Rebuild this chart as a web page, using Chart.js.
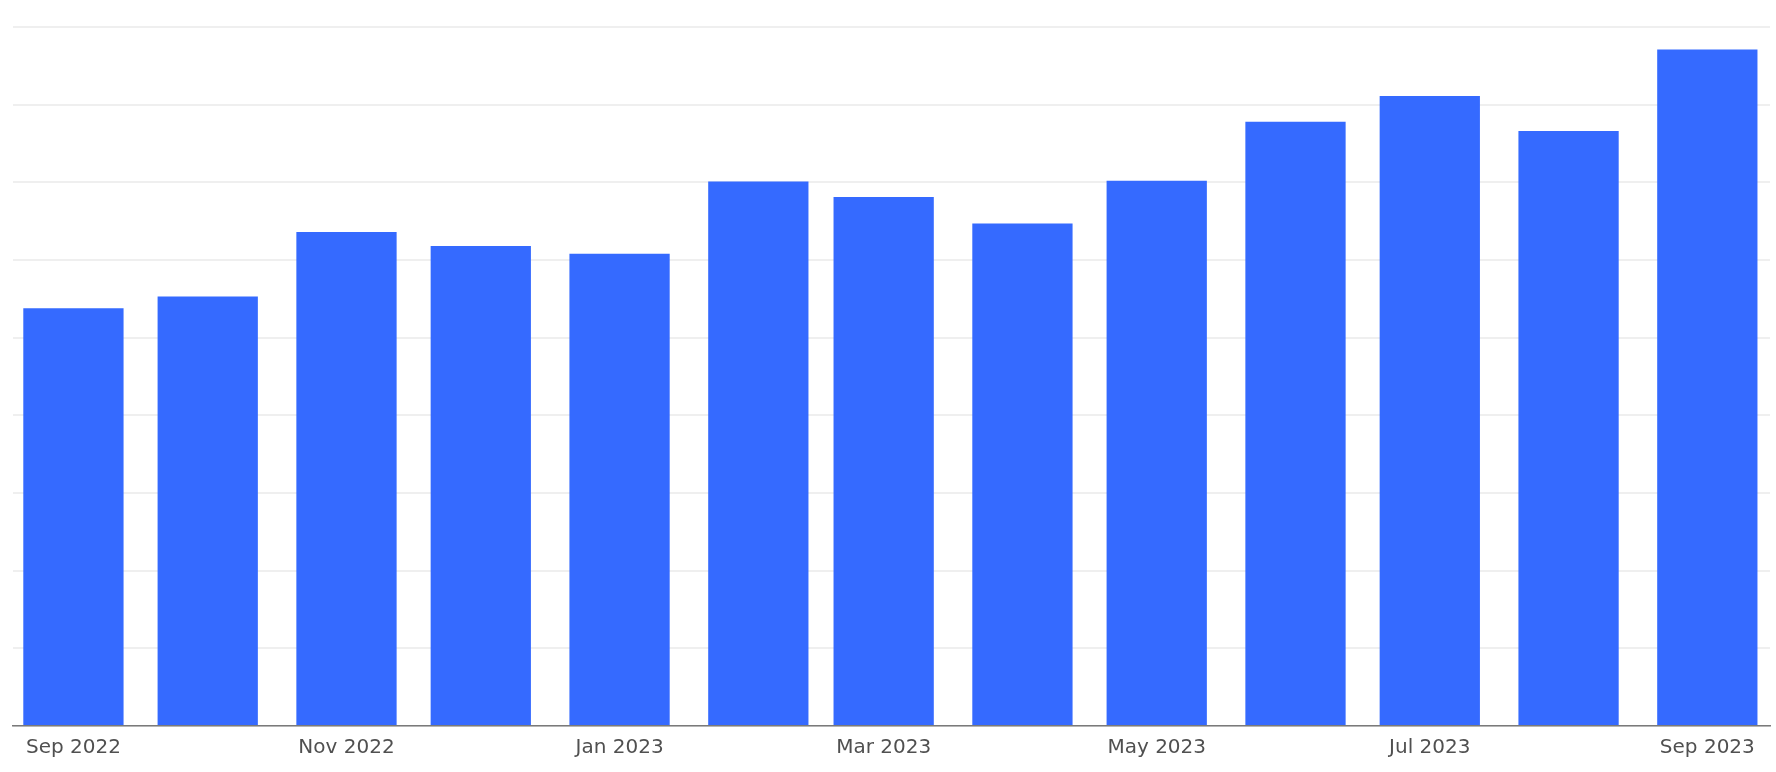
<!DOCTYPE html>
<html>
<head>
<meta charset="utf-8">
<title>Monthly bars</title>
<script src="https://cdn.jsdelivr.net/npm/chart.js@4.4.0/dist/chart.umd.min.js"></script>
<style>
  html, body { margin: 0; padding: 0; background: #fff; }
  #wrap { width: 1776px; height: 772px; position: relative; }
</style>
</head>
<body>
<div id="wrap"><canvas id="barChart"></canvas></div>
<script>
// Data
const months = ['2022-09', '2022-10', '2022-11', '2022-12', '2023-01', '2023-02', '2023-03',
                '2023-04', '2023-05', '2023-06', '2023-07', '2023-08', '2023-09'];
const values = [53.8, 55.3, 63.6, 61.8, 60.8, 70.1, 68.1, 64.7, 70.2, 77.8, 81.1, 76.6, 87.1];
const tickMonths = ['2022-09', '2022-11', '2023-01', '2023-03', '2023-05', '2023-07', '2023-09'];
const tickLabels = ['Sep 2022', 'Nov 2022', 'Jan 2023', 'Mar 2023', 'May 2023', 'Jul 2023', 'Sep 2023'];

const DAY = 86400000;

// month string -> timestamp of the 1st of that month
function monthTime(m) {
  const parts = m.split('-');
  return Date.UTC(+parts[0], +parts[1] - 1, 1);
}

const points = months.map((m, i) => ({ x: monthTime(m), y: values[i] }));
const tickValues = tickMonths.map(monthTime);

const ctx = document.getElementById('barChart').getContext('2d');
const chart = new Chart(ctx, {
  type: 'bar',
  data: {
    datasets: [{
      data: points,
      backgroundColor: '#356aff',
      borderWidth: 0,
      categoryPercentage: 0.8,
      barPercentage: 1.0
    }]
  },
  options: {
    responsive: true,
    maintainAspectRatio: false,
    animation: false,
    layout: { padding: { left: 13, right: 6, top: 27, bottom: 2 } },
    plugins: {
      legend: { display: false },
      tooltip: { enabled: false }
    },
    scales: {
      x: {
        type: 'linear',
        offset: false,
        min: monthTime(months[0]) - 13.5 * DAY,
        max: monthTime(months[months.length - 1]) + 14 * DAY,
        grid: { display: false, drawTicks: false },
        border: { display: true, color: '#7a7a7a', width: 1.5 },
        afterBuildTicks: (scale) => {
          scale.ticks = tickValues.map(v => ({ value: v }));
        },
        ticks: {
          autoSkip: false,
          maxRotation: 0,
          padding: 10,
          color: '#505050',
          font: { family: 'DejaVu Sans', size: 20 },
          callback: (value) => {
            const idx = tickValues.indexOf(value);
            return idx >= 0 ? tickLabels[idx] : '';
          }
        }
      },
      y: {
        min: 0,
        max: 90,
        ticks: { display: false, stepSize: 10 },
        grid: { color: '#efefef', lineWidth: 2, drawTicks: false },
        border: { display: false }
      }
    }
  }
});
</script>
</body>
</html>
